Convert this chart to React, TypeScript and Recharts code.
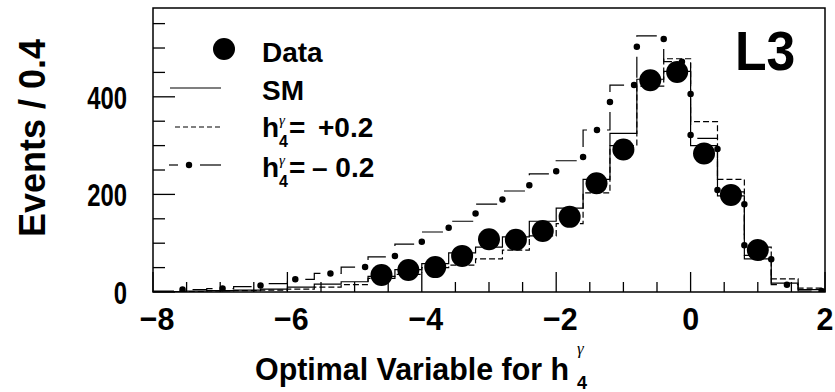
import React from "react";
import { ComposedChart, Line, Scatter, XAxis, YAxis, ReferenceArea } from "recharts";

// histogram bins: 25 bins of width 0.4 from -8 to 2
const binEdges = [
  -8, -7.6, -7.2, -6.8, -6.4, -6, -5.6, -5.2, -4.8, -4.4, -4, -3.6, -3.2,
  -2.8, -2.4, -2, -1.6, -1.2, -0.8, -0.4, 0, 0.4, 0.8, 1.2, 1.6, 2,
];

const smEvents = [
  1, 2, 3, 4, 6, 10, 16, 21, 32, 46, 58, 80, 92, 113, 145, 172, 231, 325, 436,
  452, 300, 197, 68, 18, 5,
];
const plusEvents = [
  0.5, 1, 2, 3, 4, 6, 10, 15, 28, 36, 50, 55, 68, 86, 115, 140, 203, 300, 422,
  478, 349, 231, 92, 27, 8,
];
const minusEvents = [
  2, 5, 7, 11, 17, 26, 38, 51, 72, 98, 123, 145, 180, 207, 242, 269, 332, 424,
  525, 472, 315, 205, 75, 15, 2,
];

const dataCenters = [
  -4.6, -4.2, -3.8, -3.4, -3.0, -2.6, -2.2, -1.8, -1.4, -1.0, -0.6, -0.2, 0.2,
  0.6, 1.0,
];
const dataEvents = [35, 45, 51, 74, 108, 107, 125, 154, 223, 292, 434, 451, 284, 199, 86];

const xTicks = [
  -8, -7.5, -7, -6.5, -6, -5.5, -5, -4.5, -4, -3.5, -3, -2.5, -2, -1.5, -1,
  -0.5, 0, 0.5, 1, 1.5, 2,
];
const xMajor = [-8, -6, -4, -2, 0, 2];
const xLabels = ["\u22128", "\u22126", "\u22124", "\u22122", "0", "2"];
const yTicks = [0, 50, 100, 150, 200, 250, 300, 350, 400, 450, 500, 550];
const yMajor = [0, 200, 400];
const yMax = 582;

const FONT = "'Liberation Sans', Arial, Helvetica, sans-serif";
const GREEK = "'Liberation Serif', serif";

// step rows: value of bin i at its low edge, last edge repeats the last bin
const stepRows = (vals: number[]) =>
  binEdges.map((x, i) => ({ x, v: vals[Math.min(i, vals.length - 1)] }));

const smRows = stepRows(smEvents);
const plusRows = stepRows(plusEvents);
const minusRows = stepRows(minusEvents);
const dataRows = dataCenters.map((x, i) => ({ x, y: dataEvents[i] }));

const XTick = (props: any) => {
  const { x, y, payload } = props;
  const idx = xMajor.indexOf(payload.value);
  const major = idx >= 0;
  const shift = payload.value < 0 ? 4 : 0;
  return (
    <g>
      <line x1={x} x2={x} y1={y} y2={y - (major ? 20 : 10)} stroke="#000" strokeWidth={1.3} />
      {major && (
        <text
          transform={`translate(${x + shift}, ${y + 38}) scale(0.95, 1)`}
          textAnchor="middle"
          fontFamily={FONT}
          fontWeight="bold"
          fontSize={32}
          fill="#000"
        >
          {xLabels[idx]}
        </text>
      )}
    </g>
  );
};

const YTick = (props: any) => {
  const { x, y, payload } = props;
  const major = yMajor.includes(payload.value);
  return (
    <g>
      <line x1={x} x2={x + (major ? 22 : 12)} y1={y} y2={y} stroke="#000" strokeWidth={1.3} />
      {major && (
        <text
          transform={`translate(127, ${y + 12}) scale(0.77, 1)`}
          textAnchor="end"
          fontFamily={FONT}
          fontWeight="bold"
          fontSize={31}
          fill="#000"
        >
          {payload.value}
        </text>
      )}
    </g>
  );
};

const DataDot = (props: any) => {
  const { cx, cy } = props;
  return <circle cx={cx} cy={cy} r={11} fill="#000" />;
};

// h with gamma superscript and 4 subscript, followed by the rest of the label
const HLabel = ({ y, rest, restX }: { y: number; rest: string; restX: number }) => (
  <g>
    <text x={262} y={y} fontSize={28}>h</text>
    <text x={279} y={y - 12} fontSize={15} fontWeight="normal" fontStyle="italic" fontFamily={GREEK}>γ</text>
    <text x={279} y={y + 10} fontSize={16}>4</text>
    <text x={289} y={y} fontSize={28}>=</text>
    <text x={restX} y={y} fontSize={28}>{rest}</text>
  </g>
);

export default function App() {
  return (
    <div style={{ position: "absolute", left: 0, top: 0, width: 835, height: 392, background: "#fff" }}>
      <ComposedChart width={835} height={392} margin={{ top: 8, right: 10, bottom: 0, left: 93 }}>
        <XAxis
          dataKey="x"
          type="number"
          domain={[-8, 2]}
          ticks={xTicks}
          interval={0}
          height={100}
          tickSize={0}
          tickMargin={0}
          axisLine={false}
          tick={<XTick />}
          allowDataOverflow
        />
        <YAxis
          type="number"
          domain={[0, yMax]}
          ticks={yTicks}
          interval={0}
          width={60}
          tickSize={0}
          tickMargin={0}
          axisLine={false}
          tick={<YTick />}
          allowDataOverflow
        />
        <ReferenceArea x1={-8} x2={2} y1={0} y2={yMax} fill="none" stroke="#000" strokeWidth={1.5} />
        <Line
          data={plusRows}
          dataKey="v"
          type="stepAfter"
          stroke="#000"
          strokeWidth={1.2}
          strokeDasharray="6 3"
          dot={false}
          isAnimationActive={false}
        />
        <Line
          data={smRows}
          dataKey="v"
          type="stepAfter"
          stroke="#000"
          strokeWidth={1.2}
          dot={false}
          isAnimationActive={false}
        />
        <Line
          data={minusRows}
          dataKey="v"
          type="stepAfter"
          stroke="#000"
          strokeWidth={1.2}
          strokeDasharray="21 20"
          dot={false}
          isAnimationActive={false}
        />
        <Line
          data={minusRows}
          dataKey="v"
          type="stepAfter"
          stroke="#000"
          strokeWidth={6.5}
          strokeLinecap="round"
          strokeDasharray="0 41"
          strokeDashoffset={10}
          dot={false}
          isAnimationActive={false}
        />
        <Scatter data={dataRows} dataKey="y" fill="#000" shape={<DataDot />} isAnimationActive={false} />
      </ComposedChart>

      <svg width={835} height={392} style={{ position: "absolute", left: 0, top: 0, pointerEvents: "none" }}>
        <g fontFamily={FONT} fontWeight="bold" fill="#000">
          {/* legend */}
          <circle cx={224} cy={49} r={11} />
          <text x={262} y={62} fontSize={28}>Data</text>

          <line x1={170} x2={221} y1={88} y2={88} stroke="#000" strokeWidth={1.2} />
          <text x={262} y={100} fontSize={28}>SM</text>

          <line x1={175} x2={221} y1={127} y2={127} stroke="#000" strokeWidth={1.2} strokeDasharray="5 3" />
          <HLabel y={137} rest="+0.2" restX={318} />

          <line x1={169} x2={178} y1={165} y2={165} stroke="#000" strokeWidth={1.2} />
          <circle cx={189} cy={165} r={3.2} />
          <line x1={200} x2={221} y1={165} y2={165} stroke="#000" strokeWidth={1.2} />
          <HLabel y={177} rest={"\u2013 0.2"} restX={312} />

          {/* experiment tag */}
          <text transform="translate(735, 70) scale(0.94, 1)" fontSize={55}>L3</text>

          {/* axis titles */}
          <text transform="translate(255, 380) scale(0.95, 1)" fontSize={32}>Optimal Variable for h</text>
          <text x={577} y={354} fontSize={17} fontWeight="normal" fontStyle="italic" fontFamily={GREEK}>γ</text>
          <text x={577} y={389} fontSize={18}>4</text>
          <text transform="translate(45, 138) rotate(-90)" textAnchor="middle" fontSize={36}>Events / 0.4</text>
        </g>
      </svg>
    </div>
  );
}
